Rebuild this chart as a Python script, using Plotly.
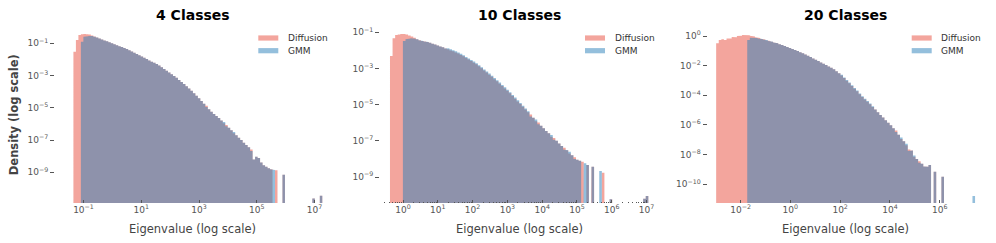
import numpy as np
import plotly.graph_objects as go

# ---------------- data ----------------
titles = ["4 Classes", "10 Classes", "20 Classes"]
series_names = ["Diffusion", "GMM"]
n_bins = 100
# log10 of first and last bin edge (shared histogram bins per panel)
bin_log_ranges = [(-1.35, 7.27), (-0.374, 7.05), (-2.98, 7.42)]

N = None
# log10 density per bin, 4 classes
diff_4 = [-1.52, -0.80, -0.49, -0.44, -0.43, -0.44, -0.46, -0.52, -0.58, -0.64,
          -0.70, -0.76, -0.82, -0.88, -0.94, -1.00, -1.06, -1.12, -1.18, -1.23,
          -1.29, -1.35, -1.43, -1.51, -1.59, -1.66, -1.74, -1.82, -1.90, -1.98,
          -2.06, -2.14, -2.21, -2.29, -2.38, -2.49, -2.60, -2.70, -2.81, -2.92,
          -3.03, -3.14, -3.27, -3.40, -3.53, -3.66, -3.80, -3.95, -4.10, -4.26,
          -4.41, -4.58, -4.75, -4.88, -5.09, -5.25, -5.38, -5.51, -5.64, -5.78,
          -5.96, -6.06, -6.24, -6.40, -6.58, -6.70, -6.85, -7.00, -7.16, -7.31,
          -7.45, -7.58, -8.20, -8.03, -8.12, -8.40, -8.57, -8.65, -8.75, -8.81,
          N, -8.87, N, N, -9.15, N, N, N, N, N,
          N, N, N, N, N, N, -10.63, N, N, -10.45]
gmm_4 = [N, N, N, -0.90, -0.60, -0.56, -0.54, -0.55, -0.59, -0.64,
         -0.70, -0.76, -0.82, -0.88, -0.94, -1.00, -1.06, -1.12, -1.18, -1.23,
         -1.29, -1.35, -1.43, -1.51, -1.59, -1.66, -1.74, -1.82, -1.90, -1.98,
         -2.06, -2.14, -2.21, -2.29, -2.38, -2.49, -2.60, -2.70, -2.81, -2.92,
         -3.03, -3.14, -3.27, -3.40, -3.53, -3.66, -3.80, -3.95, -4.10, -4.26,
         -4.41, -4.58, -4.75, -4.95, -5.09, -5.25, -5.38, -5.51, -5.64, -5.78,
         -5.88, -6.14, -6.24, -6.40, -6.50, -6.70, -6.85, -7.00, -7.16, -7.31,
         -7.45, -7.68, -8.20, -8.03, -8.12, -8.40, -8.57, -8.65, -8.75, -8.81,
         -8.85, N, N, N, -9.15, N, N, N, N, N,
         N, N, N, N, N, N, -10.63, N, N, -10.45]

# 10 classes
diff_10 = [-2.31, -1.33, -1.15, -1.12, -1.10, -1.09, -1.12, -1.17, -1.23, -1.30,
           -1.38, -1.44, -1.48, -1.51, -1.54, -1.58, -1.63, -1.68, -1.73, -1.78,
           -1.83, -1.89, -1.94, -2.00, -2.05, -2.11, -2.17, -2.25, -2.33, -2.42,
           -2.51, -2.59, -2.68, -2.77, -2.88, -2.99, -3.11, -3.22, -3.34, -3.46,
           -3.59, -3.71, -3.84, -3.97, -4.10, -4.23, -4.37, -4.52, -4.67, -4.82,
           -4.97, -5.12, -5.27, -5.42, -5.55, -5.72, -5.92, -5.98, -6.17, -6.31,
           -6.45, -6.58, -6.78, -6.84, -7.00, -7.14, -7.28, -7.38, -7.52, -7.70,
           -7.80, -7.90, -8.05, -8.10, -8.15, N, -8.34, N, -8.43, N,
           N, N, -8.76, N, N, -10.23, N, N, N, N,
           N, N, N, N, N, N, N, N, -10.20, -10.05]
gmm_10 = [N, N, N, N, N, -1.48, -1.38, -1.34, -1.33, -1.35,
          -1.39, -1.44, -1.48, -1.51, -1.54, -1.58, -1.63, -1.68, -1.73, -1.78,
          -1.83, -1.89, -1.88, -1.94, -1.99, -2.05, -2.11, -2.19, -2.27, -2.36,
          -2.45, -2.53, -2.62, -2.71, -2.82, -2.93, -3.05, -3.16, -3.28, -3.40,
          -3.53, -3.65, -3.78, -3.91, -4.04, -4.17, -4.31, -4.46, -4.61, -4.76,
          -4.91, -5.06, -5.21, -5.36, -5.65, -5.72, -5.82, -6.08, -6.17, -6.31,
          -6.45, -6.58, -6.68, -6.94, -7.00, -7.14, -7.28, -7.48, -7.52, -7.60,
          -7.80, -8.00, -8.05, -8.10, N, -8.24, -8.34, N, -8.43, N,
          N, -8.67, N, N, N, -10.23, N, N, N, N,
          N, N, N, N, N, N, N, N, -10.20, -10.05]

# 20 classes
diff_20 = [-0.49, -0.27, -0.22, -0.27, -0.16, -0.16, -0.07, -0.08, 0.00, 0.02,
           0.07, 0.07, 0.05, 0.01, -0.04, -0.09, -0.13, -0.18, -0.23, -0.28,
           -0.33, -0.38, -0.44, -0.49, -0.55, -0.61, -0.67, -0.74, -0.81, -0.87,
           -0.94, -1.01, -1.09, -1.17, -1.25, -1.33, -1.42, -1.51, -1.60, -1.69,
           -1.78, -1.87, -1.96, -2.05, -2.14, -2.24, -2.37, -2.51, -2.67, -2.84,
           -3.01, -3.19, -3.37, -3.55, -3.73, -3.92, -4.11, -4.28, -4.44, -4.60,
           -4.78, -4.96, -5.14, -5.32, -5.50, -5.68, -5.85, -6.02, -6.22, -6.38,
           -6.66, -6.95, -7.10, -7.36, -7.65, -7.72, -8.15, -8.30, -8.45, -8.62,
           -8.80, -8.82, -8.70, N, -9.15, N, N, -9.49, N, N,
           N, N, N, N, N, N, N, N, N, N]
gmm_20 = [N, N, N, N, N, N, N, N, N, N,
          N, N, -0.27, -0.11, -0.10, -0.13, -0.16, -0.20, -0.24, -0.29,
          -0.33, -0.38, -0.44, -0.49, -0.55, -0.61, -0.67, -0.74, -0.81, -0.87,
          -0.94, -1.01, -1.09, -1.17, -1.25, -1.33, -1.42, -1.51, -1.60, -1.69,
          -1.78, -1.87, -1.96, -2.05, -2.14, -2.24, -2.37, -2.51, -2.62, -2.79,
          -2.96, -3.14, -3.32, -3.50, -3.68, -3.87, -4.06, -4.23, -4.39, -4.55,
          -4.73, -4.96, -5.14, -5.32, -5.50, -5.68, -5.85, -6.02, -6.22, -6.48,
          -6.66, -6.85, -7.10, -7.26, -7.75, -7.72, -8.05, -8.30, -8.55, -8.62,
          -8.80, -8.82, -8.70, N, -9.15, N, N, -9.49, N, N,
          N, N, N, N, N, N, N, N, N, -10.79]

diffusion_series = [diff_4, diff_10, diff_20]
gmm_series = [gmm_4, gmm_10, gmm_20]

x_tick_exps = [[-1, 1, 3, 5, 7], [0, 1, 2, 3, 4, 5, 6, 7], [-2, 0, 2, 4, 6]]
y_tick_exps = [[-1, -3, -5, -7, -9], [-1, -3, -5, -7, -9], [0, -2, -4, -6, -8, -10]]

# ---------------- layout constants ----------------
W, H = 996, 243
FONT = "DejaVu Sans"
RED = "rgba(231,76,60,0.5)"
BLUE = "rgba(41,128,185,0.5)"
TICK_GREY = "#555555"

# pixel frames of each panel
panel_px = [(55, 330), (380, 658), (707.5, 984)]
plot_top, plot_bot = 25, 203
x_log_ranges = [(-1.988, 7.537), (-0.661, 7.328), (-3.328, 7.779)]
y_log_ranges = [(-10.904, 0.135), (-10.436, -0.596), (-11.261, 0.742)]
legend_px = [258.3, 585.0, 911.7]

FLOOR = 1e-30


def sup(e):
    s = str(e).replace("-", "\u2212")
    return f"10<sup>{s}</sup>"


def step_polygon(lo, hi, logd):
    edges = np.logspace(lo, hi, n_bins + 1)
    xs, ys = [edges[0]], [FLOOR]
    for i, v in enumerate(logd):
        y = 10.0 ** v if v is not None else FLOOR
        xs += [edges[i], edges[i + 1]]
        ys += [y, y]
    xs.append(edges[-1])
    ys.append(FLOOR)
    return xs, ys


fig = go.Figure()
annotations = []
shapes = []

for p in range(3):
    sfx = "" if p == 0 else str(p + 1)
    lo, hi = bin_log_ranges[p]
    for name, data, col in [("Diffusion", diffusion_series[p], RED),
                            ("GMM", gmm_series[p], BLUE)]:
        xs, ys = step_polygon(lo, hi, data)
        fig.add_trace(go.Scatter(
            x=xs, y=ys, mode="lines", fill="toself", fillcolor=col,
            line=dict(width=0, color=col), name=name, showlegend=False,
            xaxis="x" + sfx, yaxis="y" + sfx, hoverinfo="skip"))

    L, R = panel_px[p]
    xt = x_tick_exps[p]
    yt = y_tick_exps[p]
    xa = dict(
        type="log", range=list(x_log_ranges[p]), domain=[L / W, R / W],
        anchor="y" + sfx, showgrid=False, zeroline=False, showline=False,
        tickmode="array", tickvals=[10.0 ** e for e in xt],
        ticktext=[sup(e) for e in xt], ticks="inside", ticklen=3,
        tickwidth=1, tickcolor=TICK_GREY,
        tickfont=dict(family=FONT, size=9, color=TICK_GREY))
    if p == 1:
        minor_vals = [m * 10.0 ** k for k in range(-1, 8) for m in range(2, 10)]
        xa["minor"] = dict(tickmode="array", tickvals=minor_vals, ticks="inside",
                           ticklen=1.5, tickwidth=1, tickcolor=TICK_GREY)
    ya = dict(
        type="log", range=list(y_log_ranges[p]),
        domain=[(H - plot_bot) / H, (H - plot_top) / H],
        anchor="x" + sfx, showgrid=False, zeroline=False, showline=False,
        tickmode="array", tickvals=[10.0 ** e for e in yt],
        ticktext=[sup(e) for e in yt], ticks="outside", ticklen=4,
        tickwidth=1, tickcolor=TICK_GREY,
        tickfont=dict(family=FONT, size=9, color=TICK_GREY))
    fig.update_layout(**{"xaxis" + sfx: xa, "yaxis" + sfx: ya})

    cx = (L + R) / 2
    annotations.append(dict(
        text=f"<b>{titles[p]}</b>", x=cx / W, y=1 - 15 / H, xref="paper",
        yref="paper", xanchor="center", yanchor="middle", showarrow=False,
        font=dict(family=FONT, size=14, color="black")))
    annotations.append(dict(
        text="Eigenvalue (log scale)", x=cx / W, y=1 - 228.5 / H, xref="paper",
        yref="paper", xanchor="center", yanchor="middle", showarrow=False,
        font=dict(family=FONT, size=11.5, color="#444444")))

    # legend
    lx = legend_px[p]
    for k, (name, col) in enumerate([("Diffusion", RED), ("GMM", BLUE)]):
        cy = 38 + 12.7 * k
        shapes.append(dict(type="rect", xref="paper", yref="paper",
                           x0=lx / W, x1=(lx + 20) / W,
                           y0=1 - (cy + 2.6) / H, y1=1 - (cy - 2.6) / H,
                           fillcolor=col, line=dict(width=0)))
        annotations.append(dict(
            text=name, x=(lx + 27.5) / W, y=1 - cy / H, xref="paper",
            yref="paper", xanchor="left", yanchor="middle", showarrow=False,
            font=dict(family=FONT, size=9, color="#333333")))

annotations.append(dict(
    text="<b>Density (log scale)</b>", x=13.5 / W, y=1 - 114.7 / H,
    xref="paper", yref="paper", xanchor="center", yanchor="middle",
    textangle=-90, showarrow=False,
    font=dict(family=FONT, size=11.5, color="#444444")))

fig.update_layout(
    width=W, height=H, margin=dict(l=0, r=0, t=0, b=0),
    paper_bgcolor="white", plot_bgcolor="white",
    annotations=annotations, shapes=shapes, showlegend=False,
    font=dict(family=FONT))

fig.write_html("out.html",
               config={"displayModeBar": False, "staticPlot": True},
               post_script="document.body.style.margin='0';"
                           "document.body.style.overflow='hidden';")
